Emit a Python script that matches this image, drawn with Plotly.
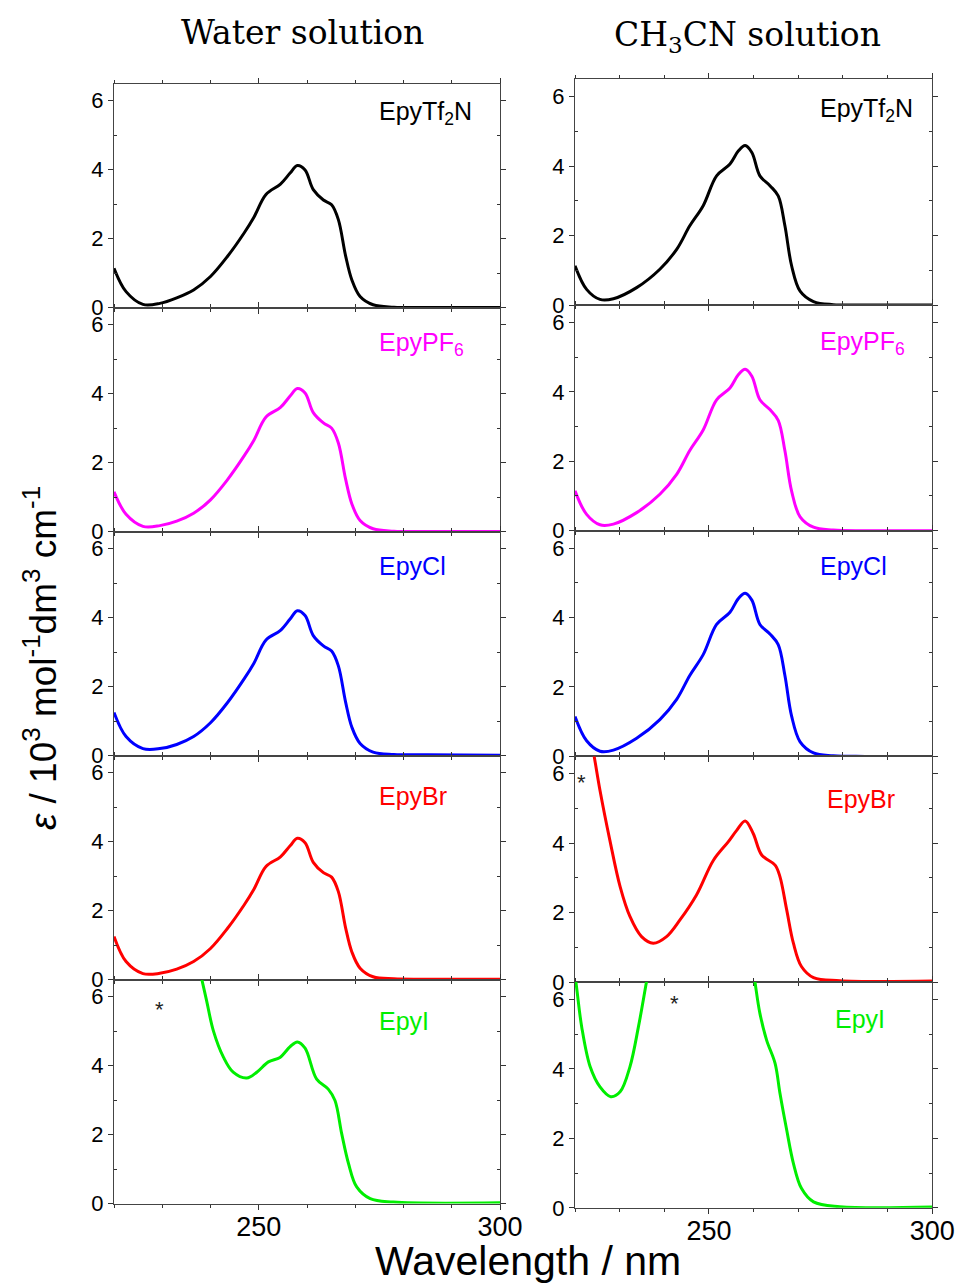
import plotly.graph_objects as go

# ---------------- data ----------------
# Water solution (left column)
wl_water = [220, 222.5, 226, 229.5, 233, 236.5, 240, 243.5, 247, 249, 251.5, 254.5, 256.5,
            258, 259.6, 261.3, 263.4, 265.1, 266.5, 268, 269.3, 271, 273.7, 278, 285, 300]
eps_water_tf2n = [1.14, 0.46, 0.09, 0.12, 0.28, 0.51, 0.90, 1.48, 2.17, 2.62, 3.28, 3.58, 3.90,
                  4.12, 3.99, 3.42, 3.12, 2.98, 2.55, 1.50, 0.80, 0.32, 0.08, 0.01, 0.0, 0.0]
eps_water_pf6 = [1.15, 0.50, 0.15, 0.17, 0.30, 0.53, 0.92, 1.50, 2.20, 2.65, 3.32, 3.60, 3.93,
                 4.15, 4.02, 3.45, 3.15, 3.00, 2.57, 1.52, 0.80, 0.32, 0.08, 0.01, 0.0, 0.0]
eps_water_cl = [1.25, 0.55, 0.20, 0.20, 0.32, 0.55, 0.95, 1.53, 2.23, 2.68, 3.35, 3.63, 3.96,
                4.20, 4.06, 3.48, 3.18, 3.03, 2.60, 1.55, 0.82, 0.35, 0.10, 0.03, 0.02, 0.01]
eps_water_br = [1.25, 0.52, 0.17, 0.18, 0.30, 0.52, 0.90, 1.48, 2.17, 2.62, 3.28, 3.56, 3.88,
                4.10, 3.97, 3.40, 3.10, 2.97, 2.55, 1.50, 0.80, 0.33, 0.08, 0.02, 0.01, 0.01]
wl_water_i = [236.5, 238.2, 239.2, 240.6, 242.7, 244.7, 247.5, 249.6, 252, 254.4, 256.5, 258,
              259.6, 262, 264.4, 265.8, 267.2, 268.6, 270.3, 273.1, 277.9, 300]
eps_water_i = [7.5, 6.5, 5.88, 5.01, 4.24, 3.81, 3.64, 3.81, 4.11, 4.24, 4.55, 4.69,
               4.51, 3.61, 3.32, 2.99, 2.02, 1.16, 0.48, 0.14, 0.04, 0.02]

# CH3CN solution (right column)
wl_acn = [220, 222.6, 225.6, 228.6, 233.8, 239, 242.8, 245.7, 248.7, 251.7, 254.7, 256.6,
          258.1, 259.6, 261.4, 263.7, 265.5, 267, 268.5, 270.4, 273.4, 277.8, 285, 300]
eps_acn_tf2n = [1.13, 0.45, 0.16, 0.18, 0.50, 1.03, 1.61, 2.28, 2.86, 3.72, 4.06, 4.44,
                4.59, 4.39, 3.72, 3.43, 3.14, 2.28, 1.13, 0.40, 0.10, 0.01, 0.0, 0.0]
eps_acn_pf6 = [1.15, 0.47, 0.17, 0.19, 0.52, 1.05, 1.63, 2.31, 2.90, 3.77, 4.11, 4.50,
               4.65, 4.45, 3.77, 3.48, 3.18, 2.30, 1.14, 0.40, 0.10, 0.02, 0.0, 0.0]
eps_acn_cl = [1.15, 0.45, 0.15, 0.18, 0.52, 1.06, 1.65, 2.33, 2.93, 3.80, 4.15, 4.55,
              4.70, 4.50, 3.80, 3.52, 3.22, 2.33, 1.16, 0.42, 0.10, 0.02, 0.0, 0.0]
wl_acn_br = [222.5, 224.3, 225.6, 227.8, 230.1, 232.3, 234.9, 237.5, 240.5, 243.5, 247.2, 251,
             254.3, 256.2, 258.1, 259.9, 261.8, 264.8, 265.9, 267.4, 268.9, 270.7, 273.4, 279.3, 300]
eps_acn_br = [7.8, 6.5, 5.52, 4.09, 2.75, 1.89, 1.31, 1.12, 1.31, 1.79, 2.51, 3.51,
              4.04, 4.37, 4.64, 4.28, 3.66, 3.37, 3.03, 2.08, 1.12, 0.45, 0.13, 0.04, 0.03]
wl_acn_i = [219, 220.2, 221.5, 223.4, 225.6, 228.0, 230.1, 232.3, 234.2, 236.0, 237, None,
            259.5, 260.3, 261.4, 262.9, 264.8, 265.9, 267.4, 268.9, 270.7, 273.4, 279.3, 300]
eps_acn_i = [7.5, 6.5, 5.21, 4.06, 3.48, 3.20, 3.34, 4.06, 5.21, 6.5, 7.2, None,
             7.2, 6.5, 5.6, 4.83, 4.16, 3.29, 2.24, 1.28, 0.56, 0.17, 0.03, 0.02]

labels = ["EpyTf<sub>2</sub>N", "EpyPF<sub>6</sub>", "EpyCl", "EpyBr", "EpyI"]
colors = ["#000000", "#ff00ff", "#0000ff", "#ff0000", "#00ee00"]
column_titles = ["Water solution", "CH<sub>3</sub>CN solution"]

water = [(wl_water, eps_water_tf2n), (wl_water, eps_water_pf6), (wl_water, eps_water_cl),
         (wl_water, eps_water_br), (wl_water_i, eps_water_i)]
acn = [(wl_acn, eps_acn_tf2n), (wl_acn, eps_acn_pf6), (wl_acn, eps_acn_cl),
       (wl_acn_br, eps_acn_br), (wl_acn_i, eps_acn_i)]

# label positions (wavelength, eps)
label_pos_water = [(274.6, 5.64), (274.6, 5.44), (274.6, 5.51), (274.6, 5.32), (274.6, 5.30)]
label_pos_acn = [(274.4, 5.61), (274.4, 5.42), (274.4, 5.48), (276.0, 5.27), (277.8, 5.45)]
# asterisks: (column, row, wavelength, eps)
asterisks = [(0, 4, 229.5, 5.64), (1, 3, 221.5, 5.76), (1, 4, 242.2, 5.88)]

# ---------------- layout ----------------
W, H = 958, 1284
FONT = "Liberation Sans, Arial, sans-serif"
SERIF = "DejaVu Serif, serif"
fig = go.Figure()

col_x = [(114 / W, 500 / W), (575 / W, 932.3 / W)]
col_top = [83.5, 79.3]
col_h = [224.0, 225.7]

annotations = []
idx = 0
for c, data in enumerate([water, acn]):
    for r in range(5):
        idx += 1
        xs, ys = data[r]
        xa = "x" if idx == 1 else f"x{idx}"
        ya = "y" if idx == 1 else f"y{idx}"
        fig.add_trace(go.Scatter(x=xs, y=ys, mode="lines", xaxis=xa, yaxis=ya,
                                 line=dict(color=colors[r], width=3, shape="spline", smoothing=1.0),
                                 connectgaps=False, showlegend=False, hoverinfo="skip"))
        top = col_top[c] + r * col_h[c]
        bot = top + col_h[c]
        ydom = [1 - bot / H, 1 - top / H]
        xkey = "xaxis" if idx == 1 else f"xaxis{idx}"
        ykey = "yaxis" if idx == 1 else f"yaxis{idx}"
        fig.update_layout(**{
            xkey: dict(domain=list(col_x[c]), anchor=ya, range=[220, 300], automargin=False,
                       tickvals=[250, 300], showticklabels=(r == 4), ticklabelstandoff=-6,
                       ticks="outside", ticklen=5, tickcolor="#333",
                       minor=dict(dtick=10, tick0=220, ticks="outside", ticklen=3, tickcolor="#333"),
                       showline=True, linecolor="#444", linewidth=1, mirror="ticks",
                       showgrid=False, zeroline=False,
                       tickfont=dict(family=FONT, size=27, color="black")),
            ykey: dict(domain=ydom, anchor=xa, range=[0, 6.5], automargin=False,
                       tickvals=[0, 2, 4, 6], ticks="outside", ticklen=5, tickcolor="#333",
                       minor=dict(tickvals=[1, 3, 5], ticks="inside", ticklen=3, tickcolor="#333"),
                       showline=True, linecolor="#444", linewidth=1, mirror="ticks",
                       showgrid=False, zeroline=False,
                       tickfont=dict(family=FONT, size=22, color="black")),
        })
        lx, ly = (label_pos_water if c == 0 else label_pos_acn)[r]
        annotations.append(dict(x=lx, y=ly, xref=xa, yref=ya, text=labels[r], showarrow=False,
                                xanchor="left", yanchor="middle",
                                font=dict(family=FONT, size=25, color=colors[r])))
        for (ac, ar, ax_, ay_) in asterisks:
            if ac == c and ar == r:
                annotations.append(dict(x=ax_, y=ay_, xref=xa, yref=ya, text="*", showarrow=False,
                                        xanchor="center", yanchor="middle",
                                        font=dict(family=FONT, size=22, color="#222")))

# column titles
annotations.append(dict(x=302 / W, y=1 - 32 / H, xref="paper", yref="paper", text=column_titles[0],
                        showarrow=False, xanchor="center", yanchor="middle",
                        font=dict(family=SERIF, size=33, color="black")))
annotations.append(dict(x=747 / W, y=1 - 36 / H, xref="paper", yref="paper", text=column_titles[1],
                        showarrow=False, xanchor="center", yanchor="middle",
                        font=dict(family=SERIF, size=33, color="black")))
# axis titles
annotations.append(dict(x=528 / W, y=1 - 1261 / H, xref="paper", yref="paper", text="Wavelength / nm",
                        showarrow=False, xanchor="center", yanchor="middle",
                        font=dict(family=FONT, size=41, color="black")))
annotations.append(dict(x=40 / W, y=1 - 658 / H, xref="paper", yref="paper",
                        text="<i>ε</i> / 10<sup>3</sup> mol<sup>-1</sup>dm<sup>3</sup> cm<sup>-1</sup>",
                        showarrow=False, xanchor="center", yanchor="middle", textangle=-90,
                        font=dict(family=FONT, size=37, color="black")))

fig.update_layout(width=W, height=H, autosize=False, margin=dict(l=0, r=0, t=0, b=0, autoexpand=False),
                  paper_bgcolor="white", plot_bgcolor="white", annotations=annotations,
                  showlegend=False)

fig.write_html("out.html")
